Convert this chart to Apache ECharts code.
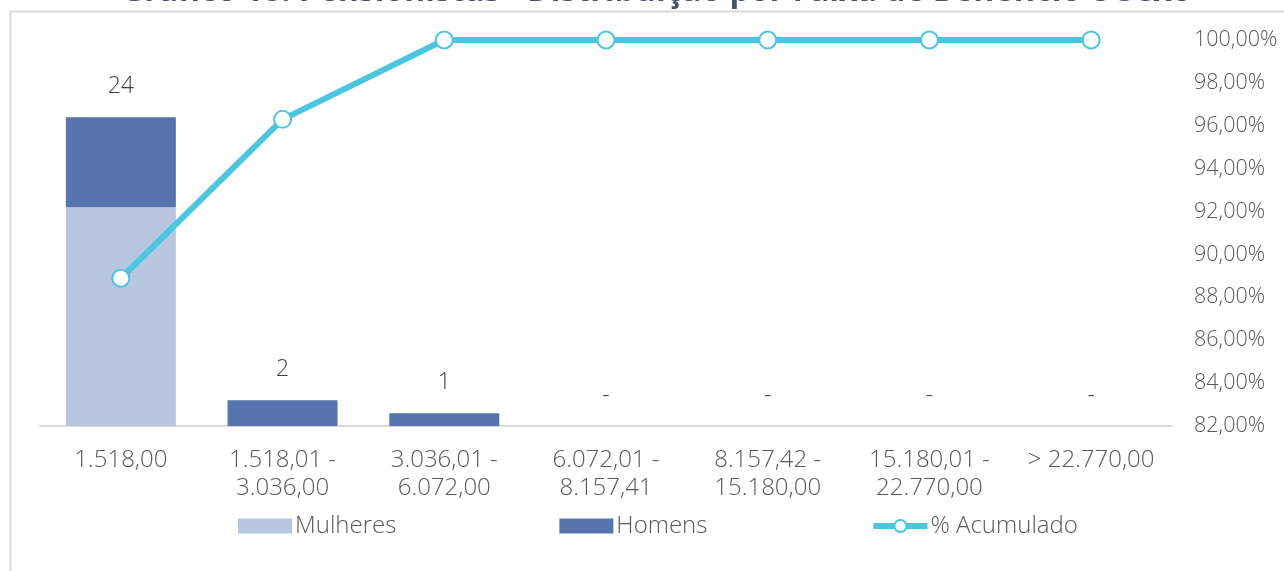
<!DOCTYPE html>
<html>
<head>
<meta charset="utf-8">
<script src="https://cdn.jsdelivr.net/npm/echarts@6/dist/echarts.min.js"></script>
<style>
html,body{margin:0;padding:0;background:#fff;}
#chart{width:1284px;height:571px;}
</style>
</head>
<body>
<div id="chart"></div>
<script>
var titleText = 'Gráfico 18: Pensionistas - Distribuição por Faixa de Benefício e Sexo';
var categories = ['1.518,00', '1.518,01 -\n3.036,00', '3.036,01 -\n6.072,00', '6.072,01 -\n8.157,41', '8.157,42 -\n15.180,00', '15.180,01 -\n22.770,00', '> 22.770,00'];
var mulheres = [17, 0, 0, 0, 0, 0, 0];
var homens = [7, 2, 1, 0, 0, 0, 0];
var acumulado = [88.89, 96.30, 100, 100, 100, 100, 100];

var chart = echarts.init(document.getElementById('chart'));
var fontFam = '"Open Sans", Lato, sans-serif';
var lineColor = '#4BC6E0';
chart.setOption({
  backgroundColor: '#ffffff',
  animation: false,
  title: {
    text: titleText,
    left: 116,
    top: -29,
    textStyle: {fontSize: 32, fontWeight: 'bold', color: '#44546A', fontFamily: fontFam}
  },
  graphic: [{
    type: 'rect',
    shape: {x: 10.5, y: 11.5, width: 1400, height: 700},
    style: {fill: 'none', stroke: '#D9D9D9', lineWidth: 2},
    z: -10
  }],
  grid: {left: 40, right: 112, top: 40, bottom: 145},
  legend: {
    bottom: 28,
    left: 233,
    itemWidth: 54,
    itemHeight: 15,
    itemGap: 163,
    textStyle: {fontSize: 24, fontWeight: 300, color: '#595959', fontFamily: fontFam, padding: [0, 0, 0, -2]},
    data: [
      {name: 'Mulheres', icon: 'rect'},
      {name: 'Homens', icon: 'rect'},
      {name: '% Acumulado', lineStyle: {width: 6, color: lineColor}, itemStyle: {color: '#fff', borderColor: lineColor, borderWidth: 2}}
    ]
  },
  xAxis: {
    type: 'category',
    data: categories,
    axisLine: {lineStyle: {color: '#D9D9D9', width: 2}},
    axisTick: {show: false},
    axisLabel: {interval: 0, hideOverlap: false, fontSize: 24, fontWeight: 300, color: '#595959', fontFamily: fontFam, lineHeight: 28, margin: 20}
  },
  yAxis: [{
    type: 'value', min: 0, max: 30, show: false
  }, {
    type: 'value', min: 82, max: 100, interval: 2, position: 'right',
    axisLine: {show: false}, axisTick: {show: false}, splitLine: {show: false},
    axisLabel: {
      fontSize: 21.5, fontWeight: 300, color: '#595959', fontFamily: fontFam, margin: 22,
      formatter: function (v) { return v.toFixed(2).replace('.', ',') + '%'; }
    }
  }],
  series: [{
    name: 'Mulheres', type: 'bar', stack: 'total', data: mulheres,
    barCategoryGap: '32%',
    itemStyle: {color: '#B9C6E0'}
  }, {
    name: 'Homens', type: 'bar', stack: 'total', data: homens,
    itemStyle: {color: '#5674AD'},
    label: {
      show: true, position: 'top', distance: 19,
      fontSize: 23, fontWeight: 300, color: '#404040', fontFamily: fontFam,
      formatter: function (p) {
        var t = mulheres[p.dataIndex] + homens[p.dataIndex];
        return t === 0 ? '-' : String(t);
      }
    }
  }, {
    name: '% Acumulado', type: 'line', yAxisIndex: 1, data: acumulado,
    symbol: 'circle', symbolSize: 17,
    lineStyle: {color: lineColor, width: 6},
    itemStyle: {color: '#ffffff', borderColor: lineColor, borderWidth: 2},
    z: 5
  }]
});
</script>
</body>
</html>
